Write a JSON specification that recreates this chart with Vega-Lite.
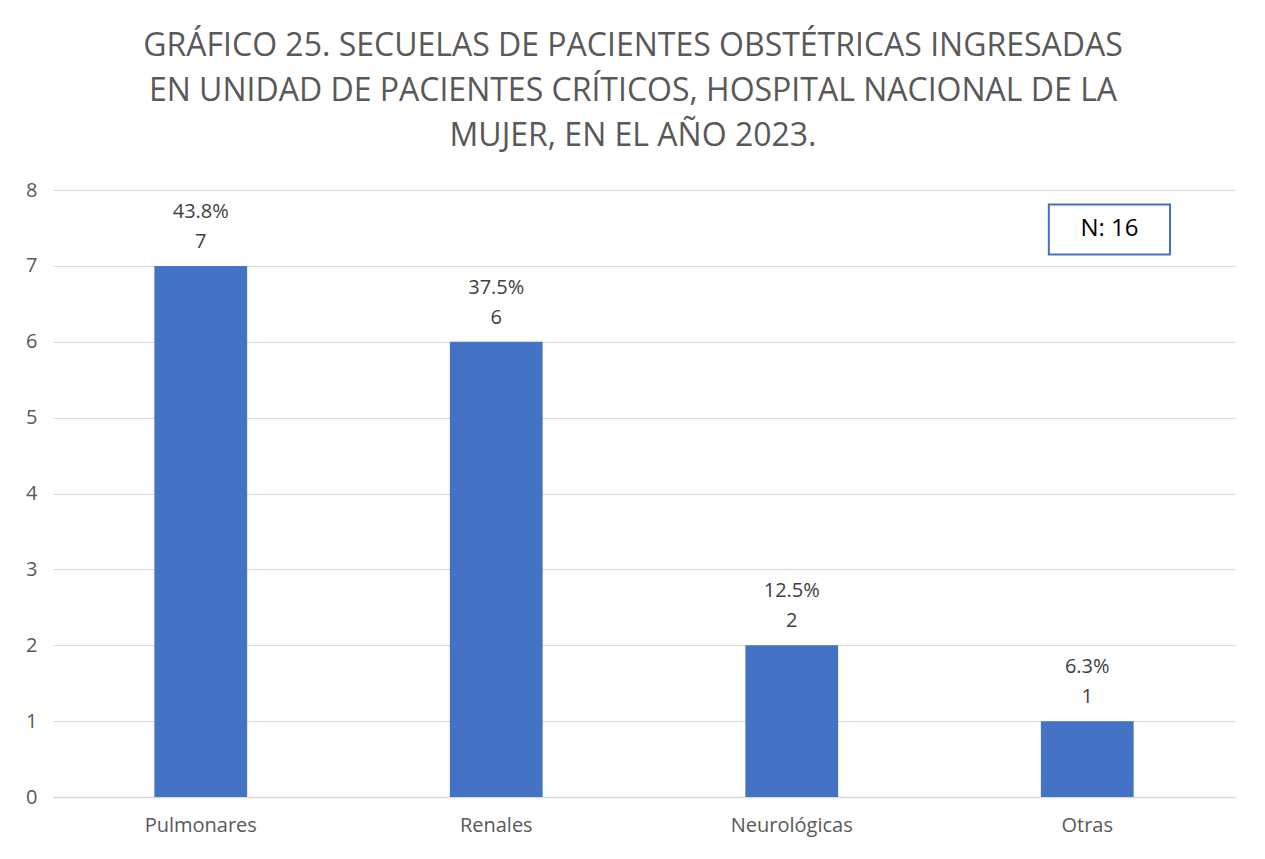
{
  "$schema": "https://vega.github.io/schema/vega-lite/v6.json",
  "width": 1182,
  "height": 607,
  "autosize": {"type": "none"},
  "padding": {"left": 53, "top": 190, "right": 30, "bottom": 62},
  "background": "white",
  "config": {
    "font": "Open Sans",
    "view": {"stroke": null}
  },
  "title": {
    "text": ["GRÁFICO 25. SECUELAS DE PACIENTES OBSTÉTRICAS INGRESADAS", "EN UNIDAD DE PACIENTES CRÍTICOS, HOSPITAL NACIONAL DE LA", "MUJER, EN EL AÑO 2023."],
    "fontSize": 32,
    "fontWeight": "normal",
    "color": "#595959",
    "lineHeight": 45,
    "anchor": "middle",
    "baseline": "alphabetic",
    "offset": 2,
    "dx": -11
  },
  "datasets": {
    "bars": [
      {"categoria": "Pulmonares", "casos": 7, "porcentaje": "43.8%"},
      {"categoria": "Renales", "casos": 6, "porcentaje": "37.5%"},
      {"categoria": "Neurológicas", "casos": 2, "porcentaje": "12.5%"},
      {"categoria": "Otras", "casos": 1, "porcentaje": "6.3%"}
    ],
    "box": [
      {"x1": 3.37, "x2": 3.78, "y1": 7.15, "y2": 7.81, "xm": 3.575, "ym": 7.48, "label": "N: 16"}
    ]
  },
  "layer": [
    {
      "data": {"name": "bars"},
      "encoding": {
        "x": {
          "field": "categoria",
          "type": "nominal",
          "sort": null,
          "scale": {"paddingInner": 0.686, "paddingOuter": 0.343},
          "axis": {
            "title": null,
            "labelAngle": 0,
            "labelFontSize": 20,
            "labelColor": "#595959",
            "labelPadding": 18,
            "ticks": false,
            "domainColor": "#d9d9d9",
            "domainWidth": 1.5
          }
        },
        "y": {
          "field": "casos",
          "type": "quantitative",
          "scale": {"domain": [0, 8]},
          "axis": {
            "title": null,
            "tickCount": 8,
            "labelFontSize": 20,
            "labelColor": "#595959",
            "labelPadding": 16,
            "ticks": false,
            "domain": false,
            "gridColor": "#d9d9d9",
            "gridWidth": 1.2
          }
        }
      },
      "layer": [
        {"mark": {"type": "bar", "color": "#4472c4"}},
        {
          "mark": {"type": "text", "fontSize": 20, "color": "#404040", "baseline": "alphabetic", "dy": -18},
          "encoding": {"text": {"field": "casos"}}
        },
        {
          "mark": {"type": "text", "fontSize": 20, "color": "#404040", "baseline": "alphabetic", "dy": -48},
          "encoding": {"text": {"field": "porcentaje"}}
        }
      ]
    },
    {
      "data": {"name": "box"},
      "layer": [
        {
          "mark": {"type": "rect", "fill": "white", "stroke": "#4472c4", "strokeWidth": 2},
          "encoding": {
            "x": {"field": "x1", "type": "quantitative", "scale": {"domain": [0, 4]}, "axis": null},
            "x2": {"field": "x2"},
            "y": {"field": "y1", "type": "quantitative"},
            "y2": {"field": "y2"}
          }
        },
        {
          "mark": {"type": "text", "fontSize": 24, "color": "#000000", "baseline": "middle", "align": "center"},
          "encoding": {
            "x": {"field": "xm", "type": "quantitative", "scale": {"domain": [0, 4]}, "axis": null},
            "y": {"field": "ym", "type": "quantitative"},
            "text": {"field": "label"}
          }
        }
      ]
    }
  ],
  "resolve": {"scale": {"x": "independent"}}
}
